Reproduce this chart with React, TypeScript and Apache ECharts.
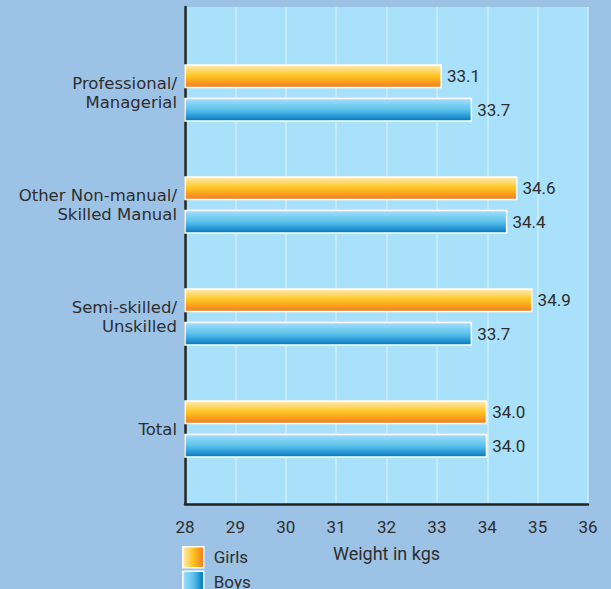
import React, { useEffect, useRef } from "react";
import * as echarts from "echarts";

const categories = [
  "Professional/\nManagerial",
  "Other Non-manual/\nSkilled Manual",
  "Semi-skilled/\nUnskilled",
  "Total",
];
const girls = [33.1, 34.6, 34.9, 34.0];
const boys = [33.7, 34.4, 33.7, 34.0];
const xMin = 28;
const xMax = 36;

const FONT = "Roboto";
const CAT_FONT = "DejaVu Sans";

const girlsV = new echarts.graphic.LinearGradient(0, 0, 0, 1, [
  { offset: 0, color: "#FFEDB5" },
  { offset: 0.5, color: "#FFC31E" },
  { offset: 1, color: "#F37A20" },
]);
const boysV = new echarts.graphic.LinearGradient(0, 0, 0, 1, [
  { offset: 0, color: "#A3E0F7" },
  { offset: 0.5, color: "#5BC2EE" },
  { offset: 1, color: "#0078BC" },
]);
const girlsH = new echarts.graphic.LinearGradient(0, 0, 1, 0, [
  { offset: 0, color: "#FFEDB5" },
  { offset: 0.5, color: "#FFC31E" },
  { offset: 1, color: "#F37A20" },
]);
const boysH = new echarts.graphic.LinearGradient(0, 0, 1, 0, [
  { offset: 0, color: "#A3E0F7" },
  { offset: 0.5, color: "#5BC2EE" },
  { offset: 1, color: "#0078BC" },
]);

export default function App() {
  const ref = useRef<HTMLDivElement>(null);
  useEffect(() => {
    if (!ref.current) return;
    const chart = echarts.init(ref.current, null, { renderer: "svg" });
    const label = {
      show: true,
      position: "right" as const,
      distance: 5,
      fontFamily: FONT,
      fontSize: 17,
      color: "#2E2E2E",
      formatter: (p: any) => Number(p.value).toFixed(1),
    };
    chart.setOption({
      animation: false,
      backgroundColor: "#9CC2E5",
      textStyle: { fontFamily: FONT },
      legend: {
        orient: "vertical",
        left: 182,
        top: 546,
        height: 60,
        itemWidth: 21,
        itemHeight: 21,
        itemGap: 2,
        padding: 0,
        textStyle: { fontFamily: FONT, fontSize: 17, color: "#2E2E2E", padding: [0, 0, 0, 5] },
        data: [
          { name: "Girls", icon: "rect", itemStyle: { color: girlsH, borderColor: "#fff", borderWidth: 1.5 } },
          { name: "Boys", icon: "rect", itemStyle: { color: boysH, borderColor: "#fff", borderWidth: 1.5 } },
        ],
      },
      grid: [
        {
          left: 185,
          right: 23,
          top: 7,
          bottom: 85,
          show: true,
          backgroundColor: "#A9E0FA",
          borderWidth: 0,
        },
        { left: 185, right: 23, top: 37, height: 448 },
      ],
      xAxis: [
        {
          gridIndex: 0,
          type: "value",
          min: xMin,
          max: xMax,
          interval: 1,
          axisLine: { show: true, lineStyle: { color: "#222", width: 2.5 } },
          axisTick: { show: false },
          splitLine: { show: true, lineStyle: { color: "#CDEFFC", width: 1.5 } },
          axisLabel: { fontFamily: FONT, fontSize: 17, color: "#2E2E2E", margin: 14 },
          name: "Weight in kgs",
          nameLocation: "middle",
          nameGap: 40,
          nameTextStyle: { fontFamily: FONT, fontSize: 18, color: "#2E2E2E" },
        },
        { gridIndex: 1, type: "value", min: xMin, max: xMax, show: false },
      ],
      yAxis: [
        {
          gridIndex: 0,
          type: "value",
          min: 0,
          max: 1,
          axisLine: { show: true, lineStyle: { color: "#222", width: 2.5 } },
          axisTick: { show: false },
          axisLabel: { show: false },
          splitLine: { show: false },
        },
        {
          gridIndex: 1,
          type: "category",
          inverse: true,
          data: categories,
          axisLine: { show: false },
          axisTick: { show: false },
          axisLabel: {
            fontFamily: CAT_FONT,
            fontSize: 16.5,
            color: "#2E2E2E",
            margin: 8,
            lineHeight: 19,
            align: "right",
            padding: [3, 0, 0, 0],
          },
        },
      ],
      series: [
        {
          name: "Girls",
          type: "bar",
          xAxisIndex: 1,
          yAxisIndex: 1,
          data: girls,
          barWidth: 24,
          barGap: "40%",
          itemStyle: { color: girlsV, borderColor: "#fff", borderWidth: 1.5 },
          label,
        },
        {
          name: "Boys",
          type: "bar",
          xAxisIndex: 1,
          yAxisIndex: 1,
          data: boys,
          barWidth: 24,
          barGap: "40%",
          itemStyle: { color: boysV, borderColor: "#fff", borderWidth: 1.5 },
          label,
        },
      ],
    });
    return () => chart.dispose();
  }, []);
  return (
    <div
      ref={ref}
      style={{ position: "fixed", left: 0, top: 0, width: 611, height: 589 }}
    />
  );
}
